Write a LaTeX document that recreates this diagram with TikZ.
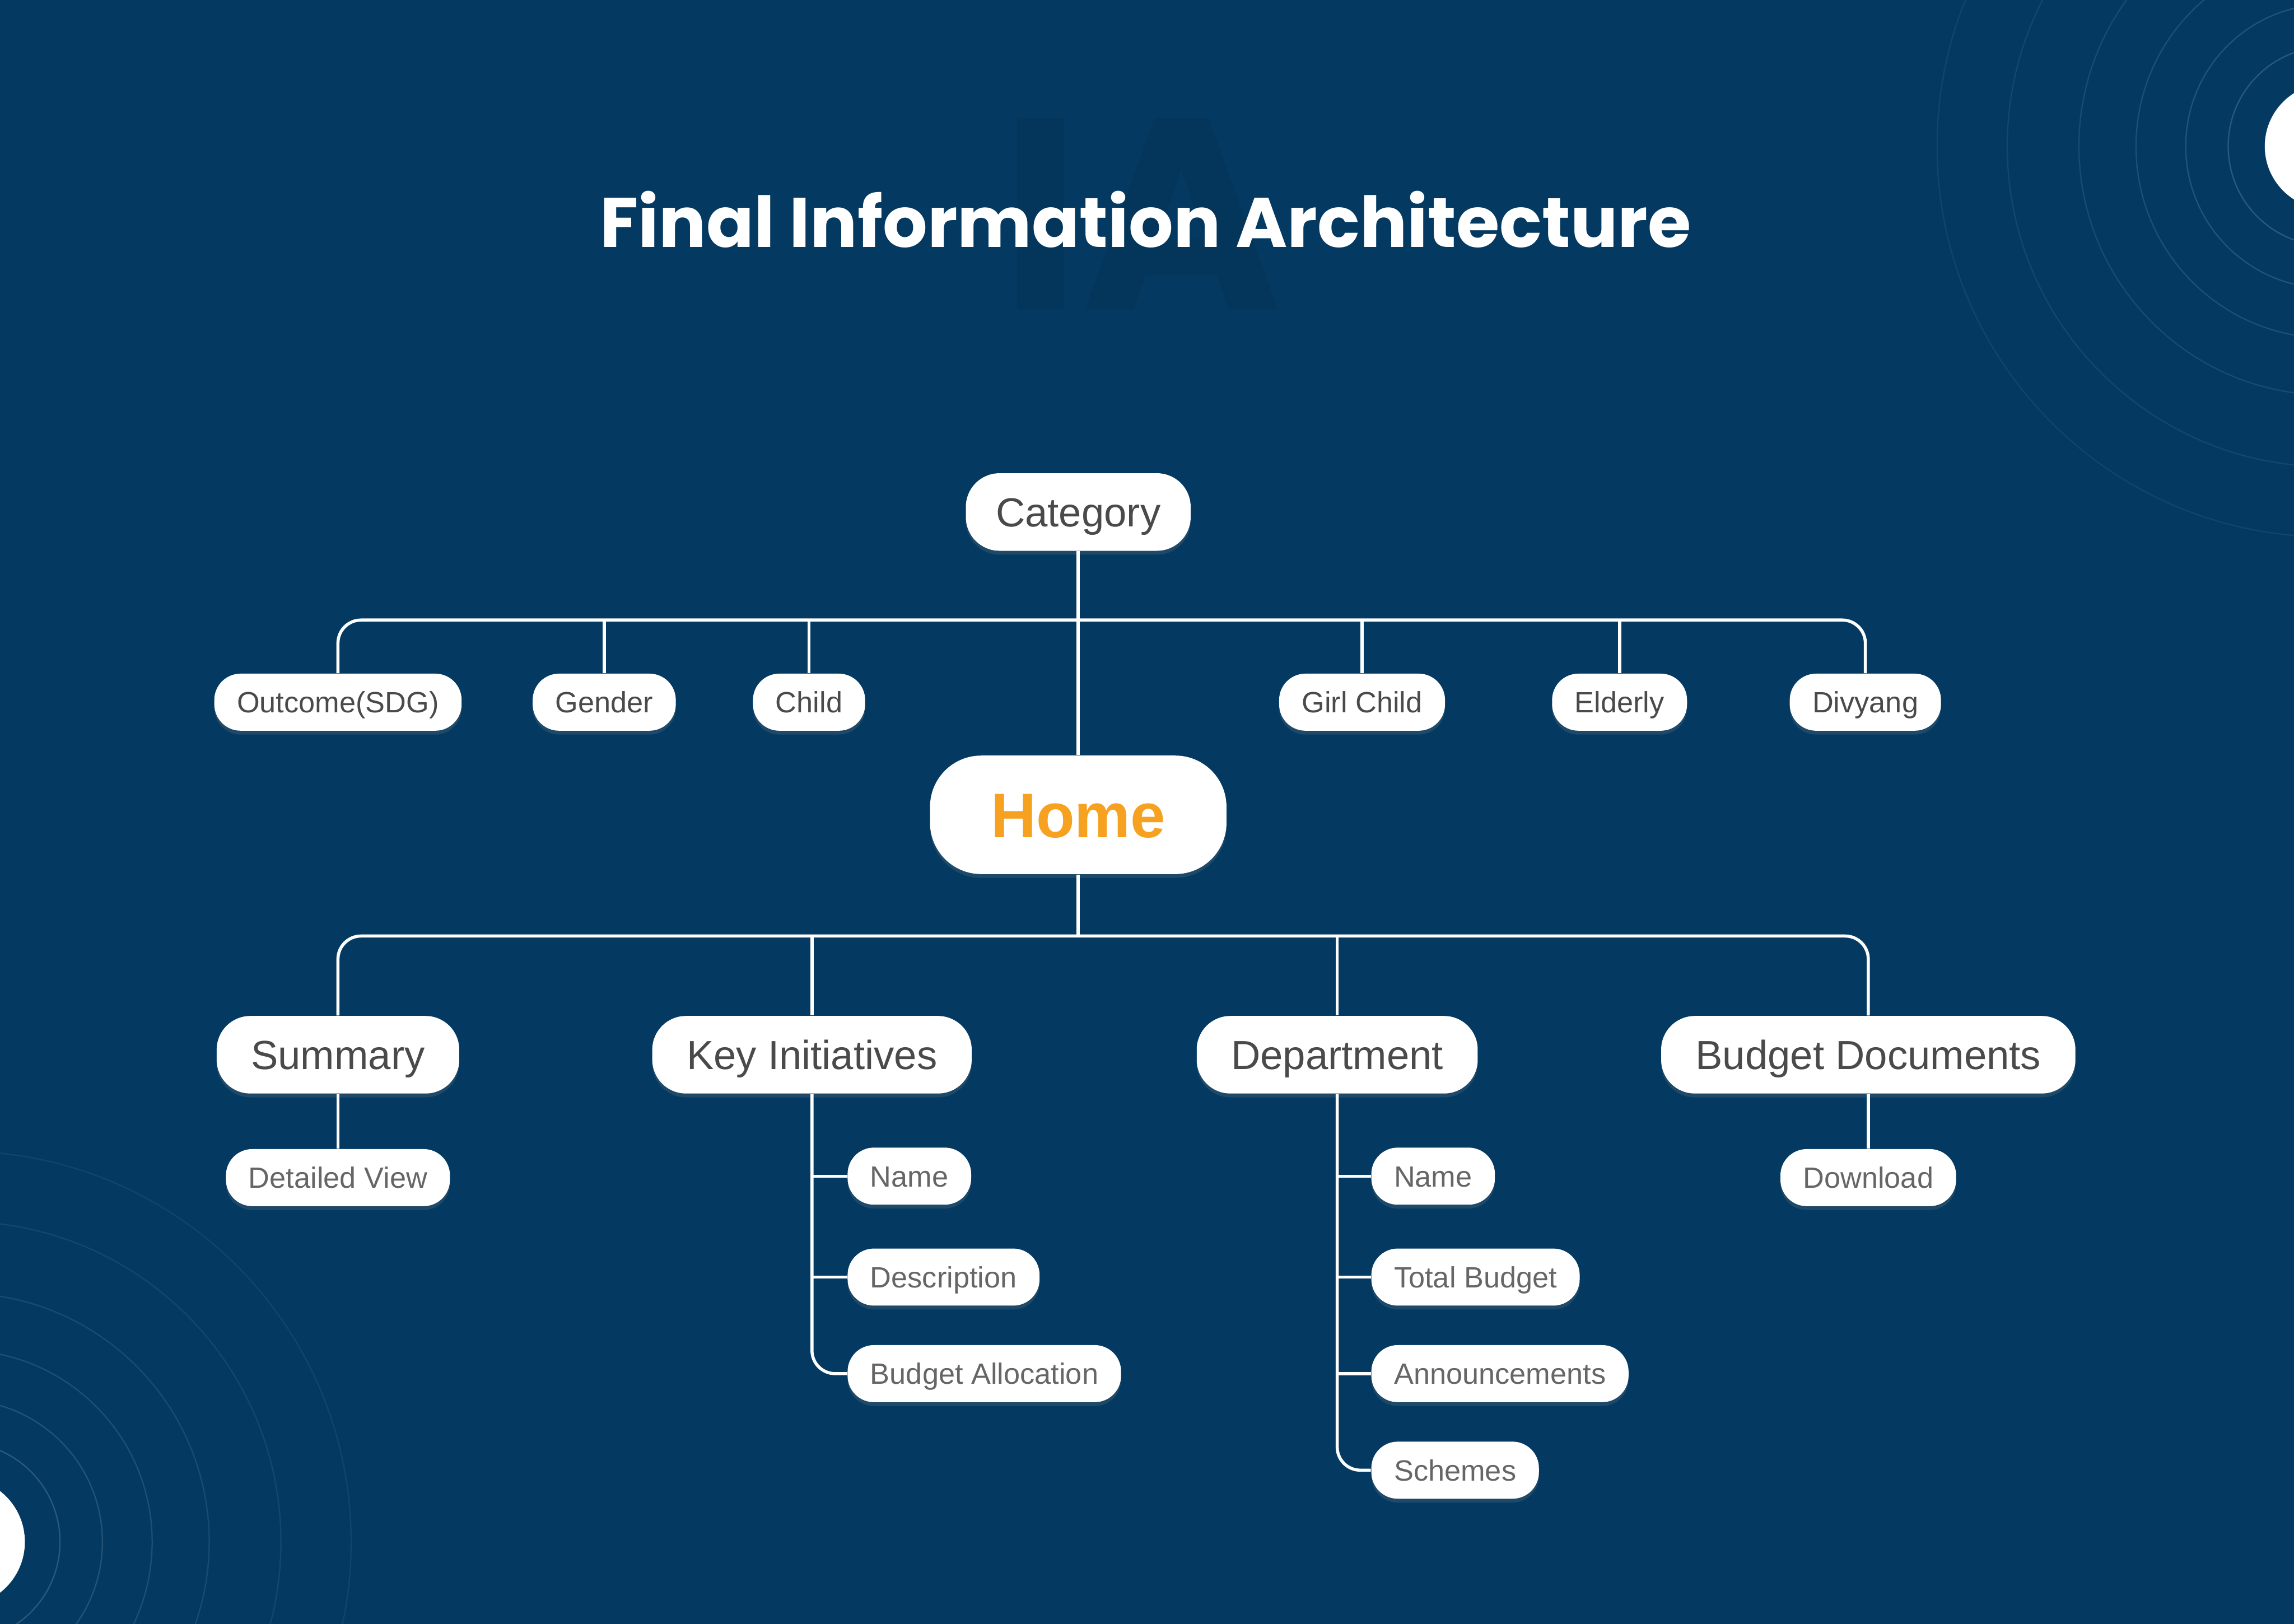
\documentclass[tikz,border=0pt]{standalone}
\usepackage{fontspec}
\setmainfont{Liberation Sans}
\newfontfamily\titlefont{Poppins}
\usepackage{tikz}
\usetikzlibrary{
  positioning,
  calc,
  shadows
}
\definecolor{iaBg}{HTML}{043A62}
\definecolor{iaText}{HTML}{4A4A4A}
\definecolor{iaSub}{HTML}{666666}
\definecolor{iaHome}{HTML}{F6A11F}
\tikzset{
  pill/.style={
    fill=white, text=iaText, inner ysep=0pt, text depth=0pt,
    drop shadow={shadow xshift=0pt, shadow yshift=-1.5pt, opacity=0.22}
  },
  tagnode/.style={pill, font=\fontsize{11.4}{13}\selectfont, text height=8.2pt,
    minimum height=7.8mm, inner xsep=3.1mm, rounded corners=3.6mm},
  subnode/.style={tagnode, text=iaSub},
  mainnode/.style={pill, font=\fontsize{15.8}{18}\selectfont, text height=11.3pt,
    minimum height=10.6mm, inner xsep=4.7mm, rounded corners=4.6mm},
  homenode/.style={pill, text=iaHome, font=\fontsize{24.5}{28}\bfseries, text height=17.6pt,
    minimum height=16.2mm, inner xsep=8.3mm, rounded corners=7mm},
  link/.style={draw=white, line width=1.2pt},
  ring/.style={draw=white, line width=0.5pt}
}

\begin{document}
\begin{tikzpicture}[x=0.2mm, y=-0.2mm]
  \useasboundingbox (0,0) rectangle (1568,1110);
  \fill[iaBg] (0,0) rectangle (1568,1110);

  % rings in the corners
  \begin{scope}
    \clip (0,0) rectangle (1568,1110);
    \foreach \r/\o in {68/.16, 97/.13, 131/.11, 170/.09, 219/.07, 267/.06} {
      \draw[ring, opacity=\o] (1591,100) circle[radius=\r];
      \draw[ring, opacity=\o] (-27,1054) circle[radius=\r];
    }
    \fill[white] (1591,100) circle[radius=43];
    \fill[white] (-27,1054) circle[radius=44];
  \end{scope}

  % title
  \node[text=iaBg!92!black, font=\titlefont\bfseries\fontsize{106}{110}\selectfont] (mark) at (780,146) {IA};
  \node[text=white, font=\titlefont\bfseries\fontsize{27.3}{32}\selectfont] (title) at (783,150) {Final Information Architecture};

  % category row
  \node[mainnode, inner xsep=4.1mm] (cat) at (737,350) {Category};
  \node[tagnode] (outcome) at (231,480) {Outcome(SDG)};
  \node[tagnode] (gender) at (413,480) {Gender};
  \node[tagnode] (child) at (553,480) {Child};
  \node[tagnode] (girl) at (931,480) {Girl Child};
  \node[tagnode] (elderly) at (1107,480) {Elderly};
  \node[tagnode] (divyang) at (1275,480) {Divyang};

  \node[homenode] (home) at (737,557) {Home};

  % second level
  \node[mainnode] (summary) at (231,721) {Summary};
  \node[mainnode] (keyinit) at (555,721) {Key Initiatives};
  \node[mainnode] (dept) at (914,721) {Department};
  \node[mainnode] (budgetdocs) at (1277,721) {Budget Documents};

  \node[subnode] (detail) at (231,805) {Detailed View};
  \node[subnode] (download) at (1277,805) {Download};

  \node[subnode, anchor=west] (kiname) at (579,804) {Name};
  \node[subnode, anchor=west] (kidesc) at (579,873) {Description};
  \node[subnode, anchor=west] (kialloc) at (579,939) {Budget Allocation};

  \node[subnode, anchor=west] (dname) at (937,804) {Name};
  \node[subnode, anchor=west] (dtotal) at (937,873) {Total Budget};
  \node[subnode, anchor=west] (dannounce) at (937,939) {Announcements};
  \node[subnode, anchor=west] (dschemes) at (937,1005) {Schemes};

  % connectors
  \coordinate (topbar) at ($(cat.south)+(0,47)$);
  \coordinate (midbar) at ($(home.south)+(0,42)$);
  \draw[link, rounded corners=9] (outcome.north) |- (topbar) -| (divyang.north);
  \foreach \n in {gender, child, girl, elderly}
    \draw[link] (\n.north) -- (\n.north |- topbar);
  \draw[link] (cat.south) -- (home.north);

  \draw[link, rounded corners=9] (summary.north) |- (midbar) -| (budgetdocs.north);
  \draw[link] (home.south) -- (midbar);
  \foreach \n in {keyinit, dept}
    \draw[link] (\n.north) -- (\n.north |- midbar);

  \draw[link] (summary.south) -- (detail.north);
  \draw[link] (budgetdocs.south) -- (download.north);

  \draw[link, rounded corners=9] (keyinit.south) |- (kialloc.west);
  \foreach \n in {kiname, kidesc}
    \draw[link] (\n.west) -- (\n.west -| keyinit.south);
  \draw[link, rounded corners=9] (dept.south) |- (dschemes.west);
  \foreach \n in {dname, dtotal, dannounce}
    \draw[link] (\n.west) -- (\n.west -| dept.south);
\end{tikzpicture}
\end{document}
